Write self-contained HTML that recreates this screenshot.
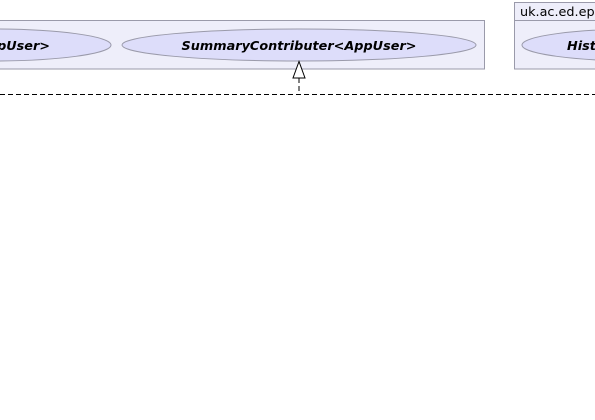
<!DOCTYPE html>
<html><head><style>body{margin:0;background:#fff}</style></head><body>
<svg width="595" height="420" xmlns="http://www.w3.org/2000/svg" style="display:block">
<rect x="-5" y="20.5" width="489.5" height="48.5" fill="#eeeefa" stroke="#9a9aaa"/>
<ellipse cx="-8" cy="45" rx="119" ry="16" fill="#ddddfa" stroke="#9a9aaa"/>
<text x="50" y="50" text-anchor="end" font-family="DejaVu Sans, sans-serif" font-size="12.8" font-weight="bold" font-style="italic">AppUser&gt;</text>
<ellipse cx="299" cy="45" rx="177" ry="16" fill="#ddddfa" stroke="#9a9aaa"/>
<text x="299" y="50" text-anchor="middle" font-family="DejaVu Sans, sans-serif" font-size="12.8" font-weight="bold" font-style="italic" textLength="235">SummaryContributer&lt;AppUser&gt;</text>
<rect x="514.5" y="2.5" width="90" height="66.5" fill="#eeeefa" stroke="#9a9aaa"/>
<line x1="514.5" y1="20.5" x2="600" y2="20.5" stroke="#9a9aaa"/>
<text x="520" y="16" font-family="DejaVu Sans, sans-serif" font-size="12.8">uk.ac.ed.ep</text>
<ellipse cx="640" cy="45" rx="118" ry="16" fill="#ddddfa" stroke="#9a9aaa"/>
<text x="567" y="50" font-family="DejaVu Sans, sans-serif" font-size="12.8" font-weight="bold" font-style="italic">Hist</text>
<polygon points="299,61.5 293,78 305,78" fill="#fff" stroke="#000"/>
<line x1="299" y1="78" x2="299" y2="94.5" stroke="#000" stroke-dasharray="5,3"/>
<line x1="0" y1="94.5" x2="595" y2="94.5" stroke="#000" stroke-dasharray="5,3"/>
</svg>
</body></html>
